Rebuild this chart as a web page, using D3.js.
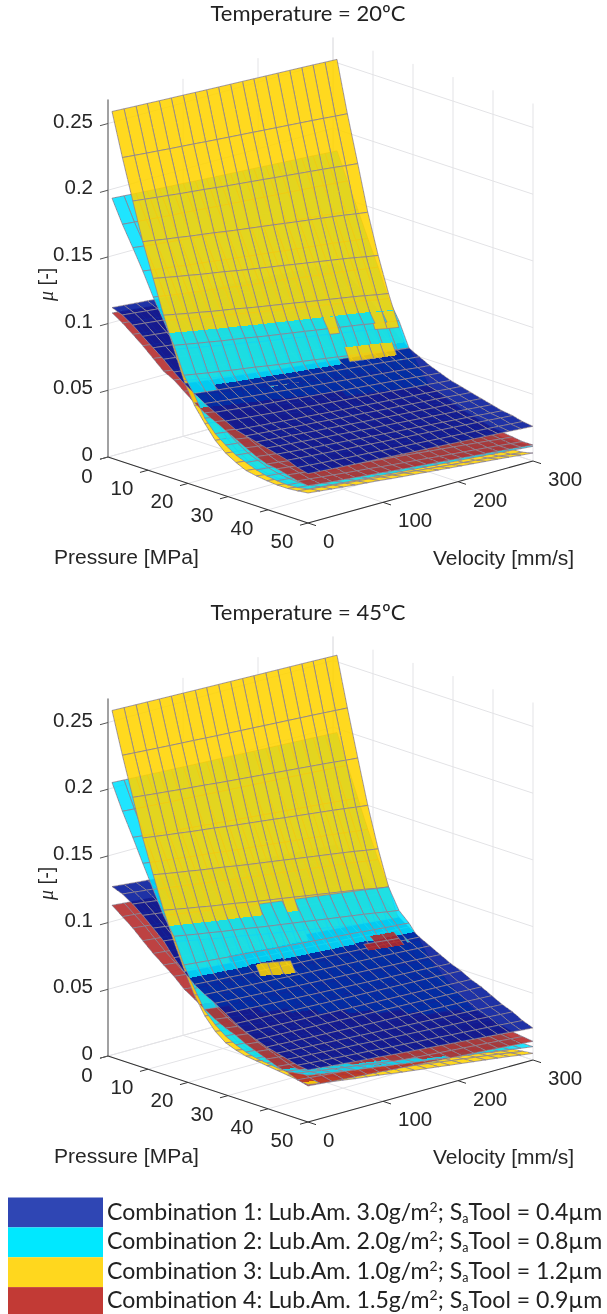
<!DOCTYPE html>
<html>
<head>
<meta charset="utf-8">
<script src="https://cdn.jsdelivr.net/npm/d3@7"></script>
<style>
html, body { margin: 0; background: #fff; }
svg { display: block; filter: blur(.35px); }
.num { font-family: "Liberation Sans", Arial, sans-serif; fill: #262626; }
.cal { font-family: Lato, sans-serif; fill: #222; }
</style>
</head>
<body>
<div id="main-content"></div>
<script>
'use strict'
// mesh nodes, read by counting the grid lines
const pressures = [1, 3.6, 6.2, 8.7, 11.3, 13.9, 16.5, 19, 21.6, 24.2, 26.8, 29.4, 32, 34.5, 37.1, 39.7, 42.3, 44.9, 47.4, 50]
const velocities = [0, 16, 32, 47, 63, 79, 95, 111, 126, 142, 158, 174, 189, 205, 221, 237, 253, 268, 284, 300]
// how far each velocity column sits between the v=0 and v=300 profiles
const velocityWeights = [0, .06, .12, .17, .23, .28, .33, .39, .44, .49, .54, .59, .64, .69, .74, .79, .84, .89, .95, 1]

const pressureTicks = [0, 10, 20, 30, 40, 50]
const velocityTicks = [0, 100, 200, 300]
const muTicks = [0, .05, .1, .15, .2, .25]
const muTickLabels = ['0', '0.05', '0.1', '0.15', '0.2', '0.25']

// 20 degC, friction along pressure at v=0 and v=300
const blue20Low = [.113, .110, .105, .099, .093, .087, .080, .074, .069, .064, .060, .056, .052, .050, .048, .046, .044, .042, .039, .037]
const blue20High = [.100, .094, .088, .082, .075, .068, .060, .054, .050, .046, .043, .040, .038, .036, .034, .032, .030, .029, .027, .026]
const cyan20Low = [.195, .178, .163, .148, .131, .116, .100, .080, .068, .053, .044, .038, .033, .030, .027, .025, .024, .0235, .024, .0255]
const cyan20High = [.184, .164, .145, .126, .107, .086, .072, .054, .042, .030, .024, .020, .017, .014, .012, .011, .010, .010, .010, .011]
const yellow20Low = [.260, .228, .198, .170, .145, .120, .097, .076, .060, .049, .039, .032, .0275, .024, .0225, .0215, .0208, .0208, .0215, .0225]
const yellow20High = [.2526, .2144, .1796, .1456, .1158, .0898, .0671, .049, .036, .027, .020, .014, .010, .007, .005, .004, .0035, .0035, .004, .006]
const red20Low = [.109, .104, .098, .092, .085, .078, .074, .068, .062, .057, .053, .049, .045, .041, .037, .034, .033, .031, .029, .028]
const red20High = [.092, .085, .078, .071, .064, .056, .049, .042, .036, .031, .027, .024, .021, .019, .017, .015, .014, .013, .012, .012]

// 45 degC
const blue45Low = [.128, .125, .120, .114, .107, .100, .090, .082, .075, .070, .066, .061, .056, .052, .049, .046, .044, .042, .040, .039]
const blue45High = [.113, .107, .100, .093, .086, .080, .074, .069, .064, .060, .056, .052, .049, .045, .042, .038, .034, .031, .027, .024]
const cyan45Low = [.206, .187, .170, .153, .136, .119, .106, .087, .072, .058, .050, .044, .040, .037, .035, .034, .033, .033, .034, .035]
const cyan45High = [.197, .175, .153, .132, .112, .094, .079, .072, .062, .050, .043, .036, .030, .025, .020, .016, .013, .011, .010, .010]
const yellow45Low = [.260, .229, .200, .172, .147, .123, .102, .084, .067, .054, .045, .039, .036, .034, .033, .032, .031, .030, .029, .028]
const yellow45High = [.255, .218, .183, .150, .120, .094, .071, .052, .037, .026, .018, .012, .008, .006, .004, .003, .003, .003, .004, .005]
const red45Low = [.114, .108, .102, .095, .088, .082, .076, .069, .064, .059, .054, .050, .047, .043, .040, .037, .034, .032, .029, .027]
const red45High = [.100, .093, .086, .079, .072, .065, .058, .051, .045, .039, .034, .030, .027, .024, .022, .020, .018, .016, .015, .014]

// half-cells [row, column, lift] that poke through the surface above them in the picture
const yellow20Poke = [[5.5, 13, .008], [5.5, 17, .008], [5.5, 18, .008], [6.5, 14, .008], [6.5, 15, .008], [6.5, 16, .008], [6.5, 17, .008]]
const yellow45Poke = [[7, 6, .008], [7, 7, .008], [7, 8, .008]]
const red45Poke = [[6, 16, .022], [6, 17, .022], [5.5, 17, .022], [5.5, 18, .022], [6, 18, .022]]

const colors = { blue: '#00169a', cyan: '#00e1ff', yellow: '#ffd400', red: '#b42828' }
const legendNames = [
	['Combination 1: Lub.Am. 3.0g/m', '; S', 'Tool = 0.4µm'],
	['Combination 2: Lub.Am. 2.0g/m', '; S', 'Tool = 0.8µm'],
	['Combination 3: Lub.Am. 1.0g/m', '; S', 'Tool = 1.2µm'],
	['Combination 4: Lub.Am. 1.5g/m', '; S', 'Tool = 0.9µm']
]
const legendColors = ['#2f46b4', '#00e8ff', '#ffd71e', '#c23a35']

const width = 607,
		height = 1314

const svg = d3.select('#main-content').append('svg')
	.attr('width', width)
	.attr('height', height)

// oblique projection of the box: each data axis has its own screen x and y scale
const xFromP = d3.scaleLinear().domain([0, 50]).range([108, 308])
const yFromP = d3.scaleLinear().domain([0, 50]).range([0, 66])
const xFromV = d3.scaleLinear().domain([0, 300]).range([0, 225])
const yFromV = d3.scaleLinear().domain([0, 300]).range([0, -62])
const yFromMu = d3.scaleLinear().domain([0, .25]).range([457, 123.5])
const muTop = .268

const project = (p, v, mu) => [xFromP(p) + xFromV(v), yFromMu(mu) + yFromP(p) + yFromV(v)]
const line = d3.line()

const meshFrom = (low, high) => low.map((d, i) => velocityWeights.map((w) => d + (high[i] - d) * w))

// mu of a cell at a screen point, or null when the point is not on the cell
const muAt = (cell, pt) => {
	const tri = [[0, 1, 2], [0, 2, 3]]
	for (const t of tri) {
		const [a, b, c] = t.map((k) => cell.pts[k])
		const den = (b[1] - c[1]) * (a[0] - c[0]) + (c[0] - b[0]) * (a[1] - c[1])
		const u = ((b[1] - c[1]) * (pt[0] - c[0]) + (c[0] - b[0]) * (pt[1] - c[1])) / den
		const w = ((c[1] - a[1]) * (pt[0] - c[0]) + (a[0] - c[0]) * (pt[1] - c[1])) / den
		if (u >= 0 && w >= 0 && u + w <= 1) return u * cell.mus[t[0]] + w * cell.mus[t[1]] + (1 - u - w) * cell.mus[t[2]]
	}
	return null
}

const samples = (cell) => {
	const out = []
	const steps = [1 / 6, .5, 5 / 6]
	steps.forEach((s) => steps.forEach((t) => {
		const [a, b, c, e] = cell.pts
		out.push([
			(1 - s) * ((1 - t) * a[0] + t * e[0]) + s * ((1 - t) * b[0] + t * c[0]),
			(1 - s) * ((1 - t) * a[1] + t * e[1]) + s * ((1 - t) * b[1] + t * c[1])
		])
	}))
	return out
}

// at one screen point the nearer surface always has the larger mu, so order the cells by that
const orderCells = (cells) => {
	cells.forEach((c) => {
		c.x0 = d3.min(c.pts, (d) => d[0])
		c.x1 = d3.max(c.pts, (d) => d[0])
		c.y0 = d3.min(c.pts, (d) => d[1])
		c.y1 = d3.max(c.pts, (d) => d[1])
		c.grid = samples(c)
		c.behind = []
	})
	cells.forEach((a, i) => {
		for (let k = i + 1; k < cells.length; k++) {
			const b = cells[k]
			if (a.surface === b.surface || a.x1 < b.x0 || b.x1 < a.x0 || a.y1 < b.y0 || b.y1 < a.y0) continue
			let vote = 0
			a.grid.forEach((pt) => {
				const m = muAt(b, pt)
				if (m !== null) vote += muAt(a, pt) + a.lift - m - b.lift
			})
			b.grid.forEach((pt) => {
				const m = muAt(a, pt)
				if (m !== null) vote += m + a.lift - muAt(b, pt) - b.lift
			})
			if (vote > 0) a.behind.push(b)
			else if (vote < 0) b.behind.push(a)
		}
	})
	const done = []
	const seen = new Set()
	const visit = (c) => {
		if (seen.has(c)) return
		seen.add(c)
		c.behind.forEach(visit)
		done.push(c)
	}
	cells.slice().sort((a, b) => d3.ascending(a.key, b.key)).forEach(visit)
	return done
}

const drawPanel = (offset, title, surfaces) => {
	const g = svg.append('g').attr('transform', `translate(0,${offset})`)

	const seg = (cls, a, b, stroke, w) => g.append('path').attr('d', line([a, b]))
		.attr('stroke', stroke).attr('stroke-width', w).attr('fill', 'none').attr('class', cls)

	// walls and floor
	const grid = '#e3e3e6'
	pressureTicks.forEach((p) => {
		seg('grid', project(p, 0, 0), project(p, 300, 0), grid, 1)
		seg('grid', project(p, 300, 0), project(p, 300, muTop), grid, 1)
	})
	velocityTicks.forEach((v) => {
		seg('grid', project(0, v, 0), project(50, v, 0), grid, 1)
		seg('grid', project(0, v, 0), project(0, v, muTop), grid, 1)
	})
	muTicks.forEach((m) => {
		seg('grid', project(0, 0, m), project(0, 300, m), grid, 1)
		seg('grid', project(0, 300, m), project(50, 300, m), grid, 1)
	})

	// each mesh cell is cut in two along pressure so a crossing of two surfaces can fall mid-cell
	const cells = []
	surfaces.forEach((s, n) => {
		const mesh = meshFrom(s.low, s.high)
		const at = (r, j) => {
			const i = Math.floor(r)
			const f = r - i
			const mu = f ? (mesh[i][j] + mesh[i + 1][j]) / 2 : mesh[i][j]
			const p = f ? (pressures[i] + pressures[i + 1]) / 2 : pressures[i]
			return { mu, pt: project(p, velocities[j], mu) }
		}
		d3.range(0, pressures.length - 1, .5).forEach((r) => {
			d3.range(velocities.length - 1).forEach((j) => {
				const c = [at(r, j), at(r + .5, j), at(r + .5, j + 1), at(r, j + 1)]
				const poke = (s.poke || []).find((d) => d[0] === r && d[1] === j)
				const pts = c.map((k) => k.pt)
				cells.push({
					surface: n,
					color: s.color,
					lift: poke ? poke[2] : 0,
					key: r - j,
					mus: c.map((k) => k.mu),
					pts,
					edges: line([pts[0], pts[1]]) + line([pts[3], pts[2]]) +
						(r % 1 ? line([pts[1], pts[2]]) : line([pts[0], pts[3]]))
				})
			})
		})
	})

	const parts = orderCells(cells).flatMap((d) => [
		{ d: line(d.pts) + 'Z', fill: d.color },
		{ d: d.edges, fill: null }
	])

	g.append('g').selectAll('path')
		.data(parts)
		.enter().append('path')
			.attr('d', (d) => d.d)
			.attr('fill', (d) => d.fill || 'none')
			.attr('fill-opacity', .88)
			.attr('shape-rendering', (d) => d.fill ? 'crispEdges' : null)
			.attr('stroke', (d) => d.fill ? 'none' : '#8f8593')
			.attr('stroke-opacity', .8)
			.attr('stroke-width', 1)

	// axes
	seg('axis', project(0, 0, 0), project(0, 0, muTop), '#808080', 1.4)
	seg('axis', project(0, 0, 0), project(50, 0, 0), '#333', 1.1)
	seg('axis', project(50, 0, 0), project(50, 300, 0), '#333', 1.1)

	pressureTicks.forEach((p) => {
		seg('tick', project(p, 0, 0), project(p, -10.7, 0), '#333', 1)
		const a = project(p, 0, 0)
		g.append('text').attr('class', 'num').attr('font-size', 20.5).attr('text-anchor', 'middle')
			.attr('x', a[0] - (p === 0 ? 21 : 26)).attr('y', a[1] + (p === 0 ? 26 : 25)).text(p)
	})
	velocityTicks.forEach((v) => {
		seg('tick', project(50, v, 0), project(52, v, 0), '#333', 1)
		const a = project(50, v, 0)
		g.append('text').attr('class', 'num').attr('font-size', 20.5)
			.attr('x', a[0] + 15).attr('y', a[1] + 25).text(v)
	})
	muTicks.forEach((m, i) => {
		seg('tick', project(0, 0, m), project(0, -10.7, m), '#555', 1)
		const a = project(0, 0, m)
		g.append('text').attr('class', 'num').attr('font-size', 20.5).attr('text-anchor', 'end')
			.attr('x', 93).attr('y', a[1] + 4).text(muTickLabels[i])
	})

	g.append('text').attr('class', 'num').attr('font-size', 21)
		.attr('x', 54).attr('y', 564).text('Pressure [MPa]')
	g.append('text').attr('class', 'num').attr('font-size', 21)
		.attr('x', 433).attr('y', 565).text('Velocity [mm/s]')

	const mu = g.append('text').attr('class', 'num').attr('font-size', 20)
		.attr('transform', 'translate(53,301) rotate(-90)')
	mu.append('tspan').attr('font-family', '"Liberation Serif", serif').attr('font-style', 'italic').text('μ')
	mu.append('tspan').text(' [-]')

	g.append('text').attr('class', 'cal').attr('font-size', 22).attr('text-anchor', 'middle')
		.attr('x', 308).attr('y', 20.5).text(title)
}

drawPanel(0, 'Temperature = 20ºC', [
	{ color: colors.blue, low: blue20Low, high: blue20High },
	{ color: colors.cyan, low: cyan20Low, high: cyan20High },
	{ color: colors.yellow, low: yellow20Low, high: yellow20High, poke: yellow20Poke },
	{ color: colors.red, low: red20Low, high: red20High }
])
drawPanel(599, 'Temperature = 45ºC', [
	{ color: colors.blue, low: blue45Low, high: blue45High },
	{ color: colors.cyan, low: cyan45Low, high: cyan45High },
	{ color: colors.yellow, low: yellow45Low, high: yellow45High, poke: yellow45Poke },
	{ color: colors.red, low: red45Low, high: red45High, poke: red45Poke }
])

// legend
const legendY = d3.scaleBand().domain(d3.range(4)).range([1197.5, 1317])
const legendTextY = d3.scaleLinear().domain([0, 3]).range([1220, 1308])
const legend = svg.append('g').selectAll('g')
	.data(legendNames)
	.enter().append('g')
legend.append('rect')
	.attr('x', 8).attr('width', 95)
	.attr('y', (d, i) => legendY(i)).attr('height', legendY.bandwidth())
	.attr('fill', (d, i) => legendColors[i])
const legendText = legend.append('text').attr('class', 'cal').attr('font-size', 23.1)
	.attr('x', 107).attr('y', (d, i) => legendTextY(i))
legendText.append('tspan').text((d) => d[0])
legendText.append('tspan').attr('font-size', 14).attr('dy', -8).text('2')
legendText.append('tspan').attr('dy', 8).text((d) => d[1])
legendText.append('tspan').attr('font-size', 12.5).attr('dy', 3).text('a')
legendText.append('tspan').attr('dy', -3).text((d) => d[2])
</script>
</body>
</html>
